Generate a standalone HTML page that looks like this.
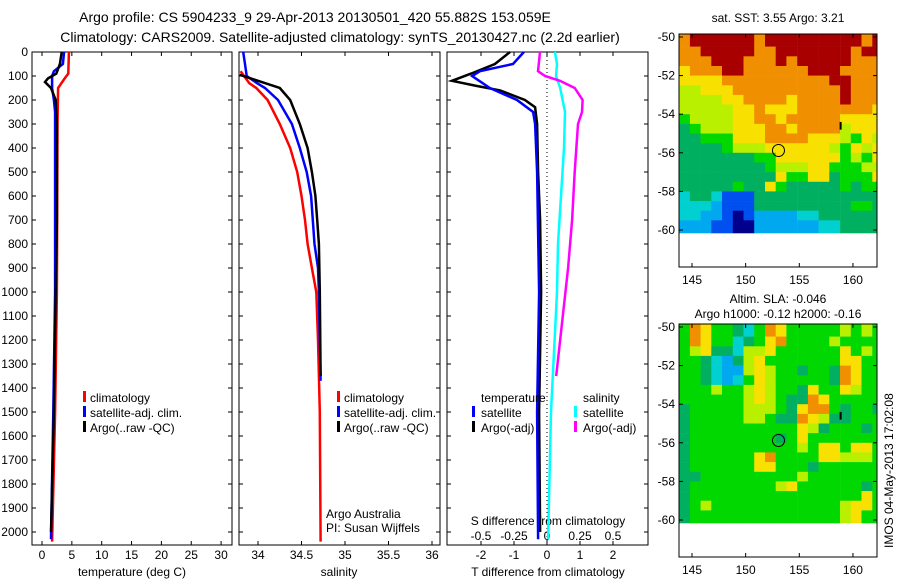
<!DOCTYPE html>
<html><head><meta charset="utf-8"><style>
body{margin:0;background:#fff;}
svg{display:block;font-family:"Liberation Sans",sans-serif;}
text{fill:#000;}
</style></head><body>
<svg id="c" width="900" height="580" viewBox="0 0 900 580">
<text x="315" y="22" font-size="14" text-anchor="middle">Argo profile: CS 5904233_9 29-Apr-2013 20130501_420 55.882S 153.059E</text>
<text x="340" y="42" font-size="14" text-anchor="middle">Climatology: CARS2009. Satellite-adjusted climatology: synTS_20130427.nc (2.2d earlier)</text>
</svg>
<script>
// ---- data ----
const depthTicks=[0,100,200,300,400,500,600,700,800,900,1000,1100,1200,1300,1400,1500,1600,1700,1800,1900,2000];
const tTicks=[0,5,10,15,20,25,30];
const sTicks=[34,34.5,35,35.5,36];
const tdTicks=[-2,-1,0,1,2];
const sdTicks=[-0.5,-0.25,0,0.25,0.5];
const tClimDepth=[0,90,110,150,300,1000,1500,2040];
const tClim=[4.5,4.4,3.8,2.7,2.6,2.5,2.2,1.7];
const tSatDepth=[0,50,80,100,150,200,250,1000,1500,2030];
const tSat=[3.7,3.5,2.0,1.7,1.7,2.0,2.2,2.2,1.9,1.5];
const tArgoDepth=[0,50,90,110,125,150,200,300,700,1000,1500,2000];
const tArgo=[3.3,3.0,2.4,1.0,0.5,1.5,2.3,2.5,2.5,2.3,2.0,1.5];
const sClimDepth=[80,130,150,200,300,400,500,600,700,800,900,1000,1200,1500,2040];
const sClim=[33.8,33.9,33.98,34.11,34.25,34.37,34.45,34.5,34.54,34.57,34.62,34.67,34.69,34.71,34.72];
const sSatDepth=[0,50,100,130,150,200,300,400,500,600,700,800,900,1000,1370];
const sSat=[33.83,33.85,33.87,33.99,34.08,34.23,34.39,34.48,34.56,34.61,34.63,34.65,34.69,34.7,34.72];
const sArgoDepth=[95,120,150,200,300,400,500,600,700,800,1000,1350];
const sArgo=[33.79,34.0,34.25,34.37,34.48,34.57,34.62,34.66,34.68,34.7,34.71,34.72];
const dTArgoDepth=[0,50,90,120,140,160,200,230,300,500,700,1000,1500,2000];
const dTArgo=[-1.12,-1.58,-2.3,-2.88,-2.18,-1.42,-0.67,-0.36,-0.3,-0.27,-0.21,-0.18,-0.24,-0.21];
const dTSatDepth=[0,50,80,100,150,200,250,300,500,1000,1500,2030];
const dTSat=[-0.7,-1.03,-2.03,-2.27,-1.73,-0.91,-0.42,-0.36,-0.3,-0.24,-0.3,-0.27];
const dSSatDepth=[0,50,100,150,250,400,600,800,1000,1500,2030];
const dSSat=[0.06,0.076,0.068,0.1,0.136,0.129,0.106,0.083,0.076,0.03,0.008];
const dSArgoDepth=[0,80,100,120,150,200,250,300,500,700,900,1100,1350];
const dSArgo=[-0.053,-0.068,-0.015,0.098,0.21,0.27,0.265,0.235,0.21,0.19,0.16,0.12,0.07];
const lonTicks=[145,150,155,160];
const latTicks=[-50,-52,-54,-56,-58,-60];
const sstRows=["8999999899999999989","8899999889999999899","8889998889899999888","7888998888889998888","7777888888888899888","6677788888888889888","6666778888788889888","6666677877788888887","5666677887888887777","4566677788788886777","4455577788887776576","4444566677777765767","4444444557777775657","4444444456667755566","4444444447557745557","4444454475444445455","3443111444444444444","3332111444444444554","3322101222233444444","2221100222222334444"];
const slaRows=["5875543587555556565","5875534578555565555","5674436675555557565","5543246755555557755","5543226765545548755","5543235765555548755","5556556765547557655","5555556765448755555","4555556665478854554","4555556654487644555","4555555555576455545","4555555554575555555","4555555555565775775","4555555785555776665","4555555775554555555","4455555555565555555","4555555556755555545","4555555555555555575","4565555555555556775","4555555555555556755"];
const palette=["#00008c","#0050f0","#00a8f0","#00d0d0","#00b060","#00d800","#b8f000","#f8e000","#f09000","#a80000"];

// ---- helpers ----
const S=document.getElementById('c');const NS="http://www.w3.org/2000/svg";
function mk(tag,at,par){const e=document.createElementNS(NS,tag);for(const k in at)e.setAttribute(k,at[k]);(par||S).appendChild(e);return e;}
const Y0=52,Y1=545;
const yD=d=>52+0.24*d;
function frame(x0,x1,name){const r=mk('rect',{x:x0,y:Y0,width:x1-x0,height:Y1-Y0,fill:'none',stroke:'#000','stroke-width':1});


depthTicks.forEach(d=>{mk('line',{x1:x0,x2:x0+4,y1:yD(d),y2:yD(d),stroke:'#000'});mk('line',{x1:x1-4,x2:x1,y1:yD(d),y2:yD(d),stroke:'#000'});});}
function line(xs,ds,fx,color,name,w){const p=xs.map((v,i)=>fx(v).toFixed(1)+','+yD(ds[i]).toFixed(1)).join(' ');
const e=mk('polyline',{points:p,fill:'none',stroke:color,'stroke-width':w||2.5});

}
function txt(x,y,s,sz,anchor,name){const t=mk('text',{x:x,y:y,'font-size':sz,'text-anchor':anchor||'start'});t.textContent=s;

return t;}
// ---- panel 1 temperature ----
const xT=v=>42+5.97*v;
frame(32,232,'temperature-panel');
depthTicks.forEach(d=>txt(28,yD(d)+4,String(d),12,'end','depth-tick-label'));
tTicks.forEach(v=>{mk('line',{x1:xT(v),x2:xT(v),y1:Y1,y2:Y1-4,stroke:'#000'});mk('line',{x1:xT(v),x2:xT(v),y1:Y0,y2:Y0+4,stroke:'#000'});txt(xT(v),559,String(v),12,'middle','temperature-tick-label');});
txt(132,576,'temperature (deg C)',12,'middle','temperature-axis-title');
line(tClim,tClimDepth,xT,'#ff0000','temperature-climatology-line');
line(tSat,tSatDepth,xT,'#0000ff','temperature-satellite-line');
line(tArgo,tArgoDepth,xT,'#000000','temperature-argo-line');
[['#ff0000','climatology'],['#0000ff','satellite-adj. clim.'],['#000','Argo(..raw -QC)']].forEach((l,i)=>{mk('rect',{x:83,y:391+15*i,width:3,height:11,fill:l[0]});txt(90,402+15*i,l[1],12,'start','temperature-legend-entry');});
// ---- panel 2 salinity ----
const xS=v=>258+87*(v-34);
frame(239,440,'salinity-panel');
sTicks.forEach(v=>{mk('line',{x1:xS(v),x2:xS(v),y1:Y1,y2:Y1-4,stroke:'#000'});mk('line',{x1:xS(v),x2:xS(v),y1:Y0,y2:Y0+4,stroke:'#000'});txt(xS(v),559,String(v),12,'middle','salinity-tick-label');});
txt(339,576,'salinity',12,'middle','salinity-axis-title');
line(sClim,sClimDepth,xS,'#ff0000','salinity-climatology-line');
line(sSat,sSatDepth,xS,'#0000ff','salinity-satellite-line');
line(sArgo,sArgoDepth,xS,'#000000','salinity-argo-line');
[['#ff0000','climatology'],['#0000ff','satellite-adj. clim.'],['#000','Argo(..raw -QC)']].forEach((l,i)=>{mk('rect',{x:337,y:391+15*i,width:3,height:11,fill:l[0]});txt(344,402+15*i,l[1],12,'start','salinity-legend-entry');});
txt(326,518,'Argo Australia',12,'start','credit-argo-australia');
txt(326,532,'PI: Susan Wijffels',12,'start','credit-pi');
// ---- panel 3 differences ----
const xTd=v=>547+33*v, xSd=v=>547+132*v;
frame(447,648,'difference-panel');
mk('line',{x1:547,x2:547,y1:Y0,y2:Y1,stroke:'#000','stroke-dasharray':'1,3'});
tdTicks.forEach(v=>{mk('line',{x1:xTd(v),x2:xTd(v),y1:Y1,y2:Y1-4,stroke:'#000'});mk('line',{x1:xTd(v),x2:xTd(v),y1:Y0,y2:Y0+4,stroke:'#000'});txt(xTd(v),559,String(v),12,'middle','t-diff-tick-label');});
sdTicks.forEach(v=>txt(xSd(v),540,String(v),12,'middle','s-diff-tick-label'));
txt(548,576,'T difference from climatology',12,'middle','t-diff-axis-title');
txt(548,525,'S difference from climatology',12,'middle','s-diff-axis-title');
line(dSSat,dSSatDepth,xSd,'#00ffff','salinity-diff-satellite-line');
line(dSArgo,dSArgoDepth,xSd,'#ff00ff','salinity-diff-argo-line');
line(dTArgo,dTArgoDepth,xTd,'#000000','temperature-diff-argo-line');
line(dTSat,dTSatDepth,xTd,'#0000ff','temperature-diff-satellite-line');
txt(481,402,'temperature',12,'start','t-diff-legend-title');
txt(583,402,'salinity',12,'start','s-diff-legend-title');
[['#0000ff','satellite',472],['#000','Argo(-adj)',472],['#00ffff','satellite',574],['#ff00ff','Argo(-adj)',574]].forEach((l,i)=>{const r=i%2;mk('rect',{x:l[2],y:406+15*r,width:3,height:11,fill:l[0]});txt(l[2]+9,417+15*r,l[1],12,'start','diff-legend-entry');});
// ---- maps ----
function map(top,rows,name){
 const x0=679,x1=877,yTop=top,yLat=v=>top+3+19.3*(-50-v),xL=v=>692+10.73*(v-145);
 const g=mk('g',{});
 rows.forEach((row,r)=>{for(let c=0;c<row.length;c++){const lon=143.8+c;const lat=-50-0.5*r;
  const xa=xL(lon),xb=Math.min(xL(lon+1),x1);const ya=r===0?yTop:yLat(lat),yb=yLat(lat-0.5)+(r===rows.length-1?3:0);
  mk('rect',{x:xa.toFixed(1),y:ya.toFixed(1),width:(xb-xa+0.3).toFixed(1),height:(yb-ya+0.3).toFixed(1),fill:palette[+row[c]]},g);}});
 mk('rect',{x:x0,y:yTop,width:x1-x0,height:233,fill:'none',stroke:'#000'});
 latTicks.forEach(v=>{const y=yLat(v);mk('line',{x1:x0,x2:x0+4,y1:y,y2:y,stroke:'#000'});mk('line',{x1:x1-4,x2:x1,y1:y,y2:y,stroke:'#000'});txt(675,y+4,String(v),12,'end','lat-tick-label');});
 lonTicks.forEach(v=>{const x=xL(v);mk('line',{x1:x,x2:x,y1:yTop,y2:yTop+4,stroke:'#000'});mk('line',{x1:x,x2:x,y1:yTop+233,y2:yTop+229,stroke:'#000'});txt(x,yTop+250,String(v),12,'middle','lon-tick-label');});
 const cc=mk('circle',{cx:xL(153.06),cy:yLat(-55.88),r:6,fill:'none',stroke:'#000'});
 
 
 mk('line',{x1:xL(158.85),x2:xL(158.85),y1:yLat(-54.4),y2:yLat(-54.8),stroke:'#000','stroke-width':2});
}
map(34,sstRows,'sst-map');
map(324,slaRows,'sla-map');
txt(778,22,'sat. SST: 3.55 Argo: 3.21',12,'middle','sst-map-title');
txt(778,303,'Altim. SLA: -0.046',12,'middle','sla-map-title');
txt(778,318,'Argo h1000: -0.12 h2000: -0.16',12,'middle','sla-map-subtitle');
const rt=txt(0,0,'IMOS 04-May-2013 17:02:08',12,'start','imos-timestamp');
rt.setAttribute('transform','translate(893,548) rotate(-90)');
</script>
</body></html>
